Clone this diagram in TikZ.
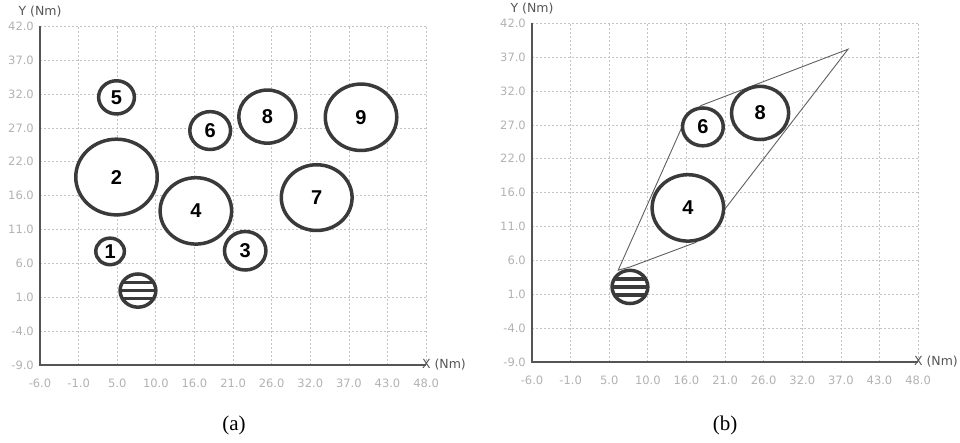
\documentclass[tikz,border=0pt]{standalone}
\usepackage{fontspec}
\setmainfont{Liberation Serif}
\newfontfamily\plotfont{DejaVu Sans}
\newfontfamily\idfont{Liberation Sans}
\usepackage{tikz}
\usetikzlibrary{shapes.geometric}
\definecolor{gridgray}{RGB}{195,195,195}
\definecolor{ticktext}{RGB}{178,178,178}
\definecolor{axisgray}{RGB}{85,85,85}
\definecolor{obstgray}{RGB}{58,58,58}
\definecolor{hullgray}{RGB}{95,95,95}

% frame of one plot: grid, axes, ticks (#1 = name prefix)
\newcommand{\plotframe}[1]{%
  \foreach \k in {1,...,10}{
    \draw[grid] ({-6+\k*5.4},-9) -- ({-6+\k*5.4},42);
    \draw[grid] (-6,{-9+\k*5.1}) -- (48,{-9+\k*5.1});
  }
  \draw[axis] (-6,42) -- (-6,-9) -- (48,-9);
  \foreach \k/\lab in {0/-6.0,1/-1.0,2/5.0,3/10.0,4/16.0,5/21.0,
                       6/26.0,7/32.0,8/37.0,9/43.0,10/48.0}
    \node[xtick] (#1xt\k) at ({-6+\k*5.4},-9) {\lab};
  \foreach \k/\lab in {0/-9.0,1/-4.0,2/1.0,3/6.0,4/11.0,5/16.0,
                       6/22.0,7/27.0,8/32.0,9/37.0,10/42.0}
    \node[ytick] (#1yt\k) at (-6,{-9+\k*5.1}) {\lab};
  \node[axlab, yshift=15pt] (#1ylab) at (-6,42) {Y (Nm)};
  \node[axlab, anchor=west, xshift=-4.3pt] (#1xlab) at (48,-9) {X (Nm)};
}

\begin{document}
\begin{tikzpicture}[
  x=7.15pt, y=6.64pt,
  grid/.style={gridgray, dash pattern=on 2pt off 2pt, line width=0.7pt},
  axis/.style={axisgray, line width=1.3pt},
  xtick/.style={font=\plotfont\fontsize{11.5}{12}\selectfont, text=ticktext,
                yshift=-18pt, inner sep=0pt},
  ytick/.style={font=\plotfont\fontsize{11.5}{12}\selectfont, text=ticktext,
                anchor=east, xshift=-6pt, inner sep=0pt},
  axlab/.style={font=\plotfont\fontsize{12.5}{14}\selectfont, text=axisgray,
                inner sep=0pt},
  obst/.style={ellipse, draw=obstgray, fill=white, line width=3.5pt,
               inner sep=0pt, minimum width=#1*14.3pt, minimum height=#1*13.28pt,
               font=\idfont\bfseries\fontsize{20}{20}\selectfont},
  robot/.style={obst=#1, path picture={
      \foreach \ya/\yb in {-9.75/-6.25,-1.75/1.75,6.25/9.75}
        \fill[obstgray] ([yshift=\ya pt]path picture bounding box.west)
          rectangle ([yshift=\yb pt]path picture bounding box.east);}},
  hull/.style={hullgray, line width=0.9pt},
  caption/.style={font=\fontsize{21}{24}\selectfont, inner sep=0pt},
]
\useasboundingbox (0pt,0pt) rectangle (960pt,443pt);

%% (a) all obstacles
\begin{scope}[shift={(82.9pt,137.8pt)}]
  \plotframe{a}
  \node[obst=2.0]  (a1) at (3.8,8.1)   {1};
  \node[obst=5.7]  (a2) at (4.7,19.3)  {2};
  \node[obst=2.9]  (a3) at (22.7,8.2)  {3};
  \node[obst=5.0]  (a4) at (15.8,14.2) {4};
  \node[obst=2.5]  (a5) at (4.7,31.3)  {5};
  \node[obst=2.85] (a6) at (17.8,26.3) {6};
  \node[obst=4.95] (a7) at (32.7,16.2) {7};
  \node[obst=4.0]  (a8) at (25.8,28.4) {8};
  \node[obst=5.0]  (a9) at (38.9,28.3) {9};
  \node[robot=2.5] (arob) at (7.7,2.2) {};
\end{scope}

%% (b) obstacles inside the hull
\begin{scope}[shift={(574.9pt,140.8pt)}]
  \plotframe{b}
  \coordinate (h1) at (6.06,4.83);
  \coordinate (h2) at (14.9,26.2);
  \coordinate (h3) at (17.6,29.6);
  \coordinate (h4) at (38.2,38.1);
  \coordinate (h5) at (21.1,14.2);
  \coordinate (h6) at (16.9,9.0);
  \coordinate (h7) at (7.7,5.3);
  \draw[hull] (h1) -- (h2) -- (h3) -- (h4) -- (h5) -- (h6) -- (h7) -- cycle;
  \node[obst=5.0]  (b4) at (15.8,14.2) {4};
  \node[obst=2.85] (b6) at (17.9,26.4) {6};
  \node[obst=4.0]  (b8) at (25.9,28.5) {8};
  \node[robot=2.5] (brob) at (7.7,2.3) {};
\end{scope}

%% captions
\node[caption] (capa) at (234pt,17.5pt) {(a)};
\node[caption] (capb) at (725pt,17.5pt) {(b)};

\end{tikzpicture}
\end{document}
